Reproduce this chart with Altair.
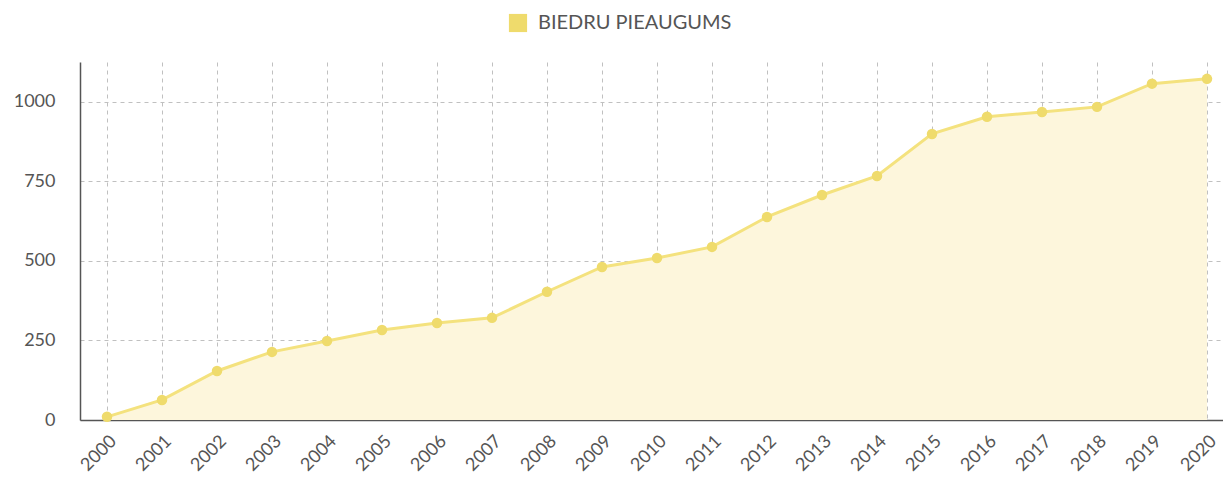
import altair as alt
import pandas as pd

years = list(range(2000, 2021))
members = [10, 63, 154, 214, 248, 283, 305, 321, 403, 481, 509, 544, 638, 707, 767, 899, 953, 968, 984, 1057, 1072]
series_name = "BIEDRU PIEAUGUMS"

df = pd.DataFrame({"year": years, "value": members, "series": series_name})

FONT = "Lato"
GRID = dict(grid=True, gridColor="#c0c0c0", gridDash=[4, 4], gridWidth=1,
            domainColor="#555", domainWidth=1.5, ticks=False)

x_enc = alt.X(
    "year:Q",
    scale=alt.Scale(domain=[1999.509, 2020.291], nice=False, zero=False),
    axis=alt.Axis(
        title=None, values=years, format="d", labelAngle=-45,
        labelAlign="right", labelBaseline="top",
        labelFontSize=18, labelColor="#555", labelFont=FONT,
        labelPadding=12, labelOverlap=False, labelFlush=False, **GRID,
    ),
)
y_enc = alt.Y(
    "value:Q",
    scale=alt.Scale(domain=[0, 1125], nice=False),
    axis=alt.Axis(
        title=None, values=[0, 250, 500, 750, 1000], format="d",
        labelFontSize=18, labelColor="#555", labelFont=FONT,
        labelPadding=25, **GRID,
    ),
)

base = alt.Chart(df)
area = base.mark_area(color="#fdf6dc", opacity=1).encode(x=x_enc, y=y_enc)
line = base.mark_line(color="#f4e27e", strokeWidth=3).encode(x=x_enc, y=y_enc)
points = base.mark_point(filled=True, size=110, opacity=1).encode(
    x=x_enc,
    y=y_enc,
    color=alt.Color(
        "series:N",
        scale=alt.Scale(domain=[series_name], range=["#efdb6c"]),
        legend=alt.Legend(
            title=None, orient="none", legendX=428, legendY=-49,
            symbolType="square", symbolSize=330, labelFontSize=20,
            labelFont=FONT, labelColor="#555", symbolOpacity=1, labelLimit=500,
            symbolFillColor="#f3e07c", symbolStrokeWidth=0, labelOffset=10,
        ),
    ),
)

chart = (
    alt.layer(area, line, points)
    .properties(
        width=1143, height=358,
        background="white",
        autosize=alt.AutoSizeParams(type="none"),
        padding={"left": 72, "top": 54, "right": 0, "bottom": 57},
    )
    .configure_view(strokeWidth=0, stroke="transparent")
)

chart.save("out.html", embed_options={"renderer": "svg", "actions": False})
